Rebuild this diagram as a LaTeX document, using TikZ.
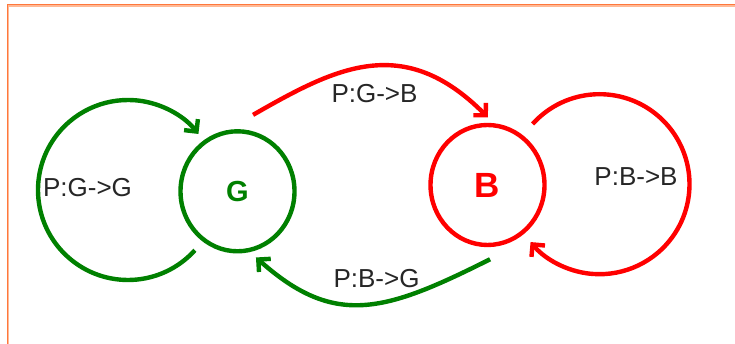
\documentclass[tikz,border=0pt]{standalone}
\usepackage{fontspec}
\setmainfont{Liberation Sans}
\usetikzlibrary{arrows.meta,calc,shapes.geometric}
\definecolor{stgreen}{RGB}{0,128,0}
\definecolor{stred}{RGB}{255,0,0}
\definecolor{frameorange}{RGB}{255,120,60}
\definecolor{framelight}{RGB}{255,185,150}
\begin{document}
\begin{tikzpicture}[x=1pt,y=1pt,
  state/.style={ellipse, draw, line width=4.4pt, minimum width=114pt,
    minimum height=120pt, inner sep=0pt},
  trans/.style={line width=4.4pt, -{Straight Barb[angle=90:12.5pt]}},
  prob/.style={font=\fontsize{26}{26}\selectfont, inner sep=0pt,
    text=black!85}]
\useasboundingbox (0,0) rectangle (735,344);
\fill[white] (0,0) rectangle (735,344);

% frame (top and left edges)
\draw[frameorange, line width=1.4pt] (7.3,-5) |- (740,339.3);
\draw[framelight, line width=1.3pt] (8.7,-5) |- (740,338);

% states
\node[state, draw=stgreen, text=stgreen,
  font=\fontsize{29}{29}\selectfont\bfseries] (G) at (237.5,152.7) {G};
\node[state, draw=stred, text=stred,
  font=\fontsize{35}{35}\selectfont\bfseries] (B) at (487.5,159) {B};

% self loops
\draw[trans, stgreen] ($(G.center)+(-109.5,1.3)+(-42:90)$)
  arc[start angle=-42, end angle=-321.5, radius=90];
\draw[trans, stred] ($(B.center)+(112,0.8)+(138:90)$)
  arc[start angle=138, end angle=-140, radius=90];

% transitions between states
\draw[trans, stred] ($(G.center)+(78.5:78)$)
  .. controls (335,276) and (403,312) .. ($(B.center)+(89.6:67.5)$);
\draw[trans, stgreen] ($(B.center)+(-88:74.3)$)
  .. controls (385,32) and (335,16) .. ($(G.center)+(-74.4:68.7)$);

% transition probabilities
\node[prob] (lgg) at (87.5,156.5) {P:G->G};
\node[prob] (lgb) at (374.5,250) {P:G->B};
\node[prob] (lbg) at (376.5,65.2) {P:B->G};
\node[prob] (lbb) at (636,167.7) {P:B->B};
\end{tikzpicture}
\end{document}
